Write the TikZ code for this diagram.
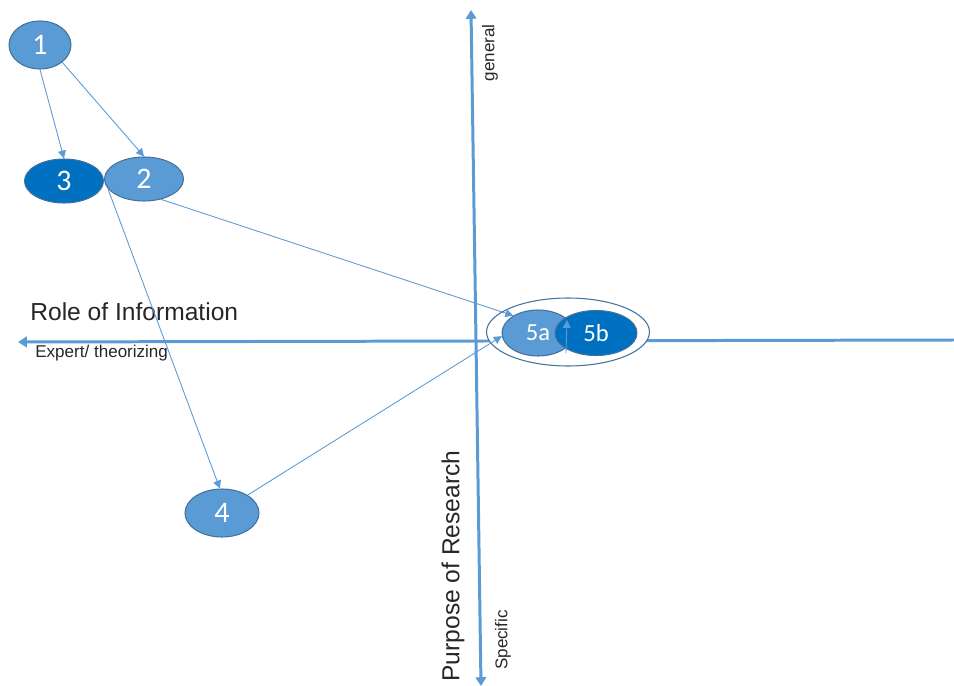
\documentclass[tikz,border=0pt]{standalone}
\usepackage{fontspec}
\usepackage{tikz}
\usepackage{xcolor}
\usetikzlibrary{positioning,calc,shapes.geometric,arrows.meta}
\setmainfont{Liberation Sans}
\newfontfamily\calib{Carlito}
\definecolor{lblue}{HTML}{5B9BD5}
\definecolor{dblue}{HTML}{0070C0}
\definecolor{rim}{HTML}{41719C}
\newcommand{\enode}[5]{\node [blob, fill=#4, #5] (#1) at (#2) {#3}}
\tikzset{
  blob/.style={ellipse, draw=rim, line width=0.6pt, inner sep=0pt, text=white, font=\calib\fontsize{17}{17}\selectfont},
  thin/.style={draw=lblue, line width=0.5pt, -{Triangle[width=4.5pt,length=4.5pt]}},
  axis/.style={draw=lblue, line width=1.7pt, -{Triangle[width=6pt,length=5pt]}},
  small/.style={font=\fontsize{9.7}{10}\selectfont, text=black!85, inner sep=0pt}
}

\begin{document}
\begin{tikzpicture}[x=0.02cm, y=-0.02cm]
\useasboundingbox (0,0) rectangle (954,686);

\coordinate (LEFTEND) at (18,342);
\coordinate (RIGHTEND) at (954,340);
\coordinate (TOPEND) at (471,10);
\coordinate (BOTEND) at (481,686);
\coordinate (MID) at (476,341);

% axes
\draw[axis] (RIGHTEND) -- (LEFTEND);
\draw[axis] (MID) -- (TOPEND);
\draw[axis] (MID) -- (BOTEND);

\node [small, rotate=90] (GEN) at (490,53) {general};
\node [small, rotate=90] (SPEC) at (503,640) {Specific};
\node [inner sep=0pt, rotate=90, font=\fontsize{14}{14}\selectfont, text=black!85] (PURPOSE) at (453,566) {Purpose of Research};
\node [inner sep=0pt, anchor=west, font=\fontsize{14}{14}\selectfont, text=black!85] (ROLE) at (30,312) {Role of Information};
\node [small, anchor=west] (EXPERT) at (35,353) {Expert/ theorizing};

\enode{ONE}{40,45}{1}{lblue}{minimum width=1.24cm, minimum height=0.96cm};
\enode{THREE}{64,181}{3}{dblue}{minimum width=1.58cm, minimum height=0.88cm};
\enode{TWO}{144,179}{2}{lblue}{minimum width=1.58cm, minimum height=0.88cm};
\enode{FOUR}{222,513}{4}{lblue}{minimum width=1.48cm, minimum height=0.96cm};

\node [ellipse, draw=rim, line width=0.6pt, fill=white, minimum width=3.26cm, minimum height=1.36cm] (OUTER) at (568,332) {};
\enode{FIVEA}{538,333}{5a}{lblue}{minimum width=1.44cm, minimum height=0.92cm, font=\calib\fontsize{14}{14}\selectfont};
\enode{FIVEB}{596,333}{5b}{dblue}{minimum width=1.64cm, minimum height=0.9cm, font=\calib\fontsize{14}{14}\selectfont};

\draw[thin] (ONE.south) -- (THREE.north);
\draw[thin] (ONE.south east) -- (TWO.north);
\draw[thin] (TWO.-50) -- (FIVEA.145);
\draw[thin] (TWO.195) -- (FOUR.95);
\draw[thin] (FOUR.35) -- (FIVEA.185);

\coordinate (LOW) at (566,353);
\coordinate (UP) at (567,320);
\draw[thin] (LOW) -- (UP);

\end{tikzpicture}
\end{document}
